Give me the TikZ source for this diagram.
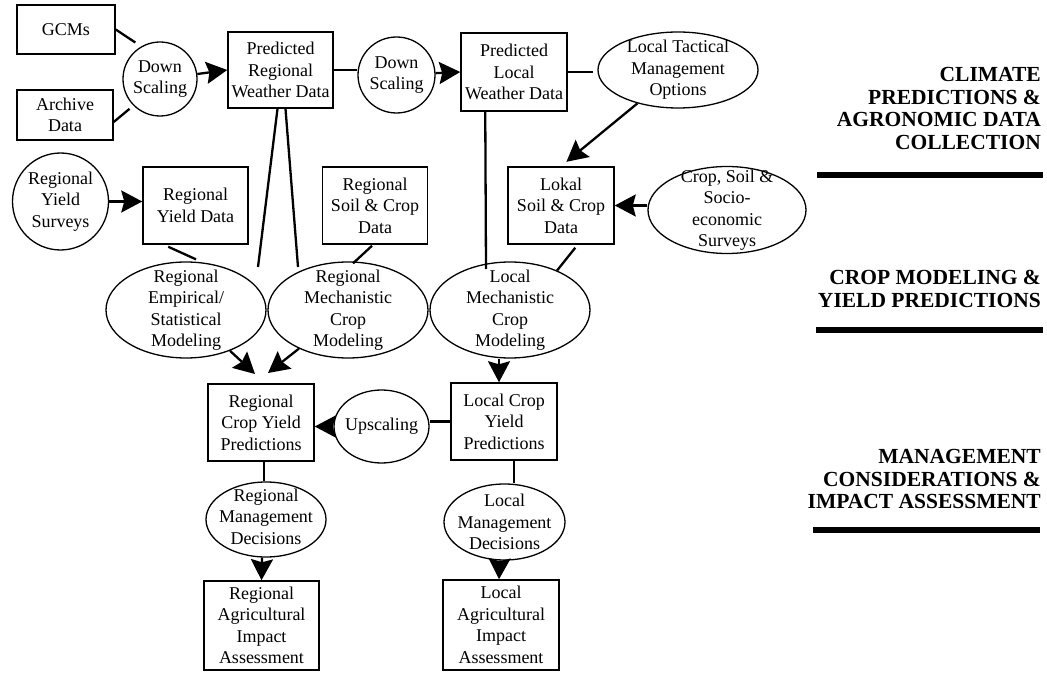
\documentclass[tikz,border=0pt]{standalone}
\usepackage{fontspec}
\setmainfont{Liberation Serif}
\usetikzlibrary{arrows.meta,shapes.geometric,calc}
\begin{document}
\begin{tikzpicture}[x=1pt,y=-1pt,
  txt/.style={font=\fontsize{18pt}{21.5pt}\selectfont, align=center, inner sep=0pt},
  box/.style={draw, line width=1.5pt, rectangle, txt, minimum width=105pt, minimum height=77pt},
  ell/.style={draw, line width=1.3pt, ellipse, inner sep=0pt},
  conn/.style={line width=2.3pt},
  arr/.style={conn, -{Stealth[length=21pt,width=22pt,inset=3pt]}},
  head/.style={font=\fontsize{21.5pt}{22.7pt}\selectfont\bfseries, align=right, inner sep=0pt},
  rulebar/.style={line width=6pt}
]
\useasboundingbox (0,0) rectangle (1047,676);

% --- top row
\node[box, minimum width=98pt, minimum height=49pt] (gcm) at (66,29.5) {GCMs};
\node[box, minimum width=96pt, minimum height=50pt] (arch) at (65,115) {Archive\\Data};
\node[ell, minimum width=74pt, minimum height=74pt] (ds1) at (160,79) {};
\node[txt] (ds1t) at (ds1) {Down\\Scaling};
\node[box, minimum height=76pt] (prw) at (280.5,70) {Predicted\\Regional\\Weather Data};
\node[ell, minimum width=77pt, minimum height=76pt] (ds2) at (396.5,75) {};
\node[txt] (ds2t) at (ds2) {Down\\Scaling};
\node[box, minimum width=106pt, minimum height=78pt] (plw) at (514,72) {Predicted\\Local\\Weather Data};
\node[ell, minimum width=160pt, minimum height=76pt] (ltm) at (678,70) {};
\node[txt] (ltmt) at (ltm) {Local Tactical\\Management\\Options};

% --- second row
\node[ell, minimum width=96pt, minimum height=97pt] (rys) at (60.5,201.5) {};
\node[txt] (ryst) at (rys) {Regional\\Yield\\Surveys};
\node[box] (ryd) at (195.5,205.5) {Regional\\Yield Data};
\node[box] (rsd) at (375,205.5) {Regional\\Soil \& Crop\\Data};
\node[box, minimum width=106pt] (lokal) at (561,205.5) {Lokal\\Soil \& Crop\\Data};
\node[ell, minimum width=158pt, minimum height=87pt] (css) at (727,210) {};
\node[txt] (csst) at (css) {Crop, Soil \&\\Socio-\\economic\\Surveys};

% --- modeling row
\node[ell, minimum width=160pt, minimum height=96pt] (res) at (186,310) {};
\node[txt] (rest) at (res) {Regional\\Empirical/\\Statistical\\Modeling};
\node[ell, minimum width=160pt, minimum height=96pt] (rmc) at (348,310) {};
\node[txt] (rmct) at (rmc) {Regional\\Mechanistic\\Crop\\Modeling};
\node[ell, minimum width=160pt, minimum height=96pt] (lmc) at (510,310) {};
\node[txt] (lmct) at (lmc) {Local\\Mechanistic\\Crop\\Modeling};

% --- predictions row
\node[box, minimum width=106pt] (rcy) at (261,422.5) {Regional\\Crop Yield\\Predictions};
\node[ell, minimum width=95pt, minimum height=73pt] (ups) at (381.5,426.5) {};
\node[txt] (upst) at (ups) {Upscaling};
\node[box, minimum width=106pt] (lcy) at (504,421.5) {Local Crop\\Yield\\Predictions};

% --- management row
\node[ell, minimum width=120pt, minimum height=75pt] (rmd) at (266,519.5) {};
\node[txt] (rmdt) at ($(rmd)+(0,-3)$) {Regional\\Management\\Decisions};
\node[ell, minimum width=121pt, minimum height=76pt] (lmd) at (504.5,522) {};
\node[txt] (lmdt) at (lmd) {Local\\Management\\Decisions};

% --- impact row
\node[box, minimum width=115pt, minimum height=89pt] (rai) at (261.5,625.5) {Regional\\Agricultural\\Impact\\Assessment};
\node[box, minimum width=116pt, minimum height=90pt] (lai) at (501,625) {Local\\Agricultural\\Impact\\Assessment};

% --- headings
\node[head, anchor=east] (h1) at (1041,108.5) {CLIMATE\\PREDICTIONS \&\\AGRONOMIC DATA\\COLLECTION};
\node[head, anchor=east] (h2) at (1041,289) {CROP MODELING \&\\YIELD PREDICTIONS};
\node[head, anchor=east] (h3) at (1041,479) {MANAGEMENT\\CONSIDERATIONS \&\\IMPACT ASSESSMENT};
\draw[rulebar] (817,175) -- (1043,175);
\draw[rulebar] (816,330) -- (1043,330);
\draw[rulebar] (813,530) -- (1040,530);

% --- free ends
\coordinate (c1) at (258,267);
\coordinate (c2) at (298,267);
\coordinate (c3) at (486,269);
\coordinate (a1) at (255,374);
\coordinate (a2) at (268,373);

% --- connectors
\draw[conn, shorten >=7pt] (gcm.east) -- (ds1.120);
\draw[conn, shorten >=5pt] ($(arch.east)+(0,7)$) -- (ds1.225);
\draw[arr] (ds1) -- (prw.west);
\draw[conn] (prw.east) -- (prw.east -| ds2.west);
\draw[arr] (ds2) -- (plw.west);
\draw[conn, shorten >=4pt] (plw.east) -- (plw.east -| ltm.west);
\draw[arr, shorten >=7pt] (ltm) -- (lokal.north);
\draw[arr] (lokal.east -| css.west) -- (lokal.east);
\draw[arr] (rys.east) -- (rys.east -| ryd.west);
\draw[conn] ($(ryd.south west)+(26,2)$) -- ($(res.north)+(10,-2)$);
\draw[conn] ($(prw.south)+(-3,0)$) -- (c1);
\draw[conn] ($(prw.south)+(5,0)$) -- (c2);
\draw[conn] ($(rsd.south)+(-3,1)$) -- ($(rmc.north)+(5,2)$);
\draw[conn] ($(plw.south west)+(25,0)$) -- (c3);
\draw[conn] ($(lokal.south west)+(68,3)$) -- (lmc.40);
\draw[arr] (res) -- (a1);
\draw[arr] (rmc) -- (a2);
\draw[arr] (ups.west) -- (ups.west -| rcy.east);
\draw[conn] (lcy.west) -- (lcy.west -| ups.east);
\draw[arr] ($(lmc.south)+(-11,0)$) -- ($(lcy.north)+(-5,0)$);
\draw[conn] ($(rcy.south)+(3,0)$) -- ($(rmd.north)+(-2,0)$);
\draw[arr] ($(rmd.south)+(-4,0)$) -- (rai.north);
\draw[conn] ($(lcy.south)+(10,0)$) -- ($(lmd.north)+(9.5,0)$);
\draw[arr] ($(lmd.south)+(-5,0)$) -- ($(lai.north)+(-2,0)$);
\end{tikzpicture}
\end{document}
